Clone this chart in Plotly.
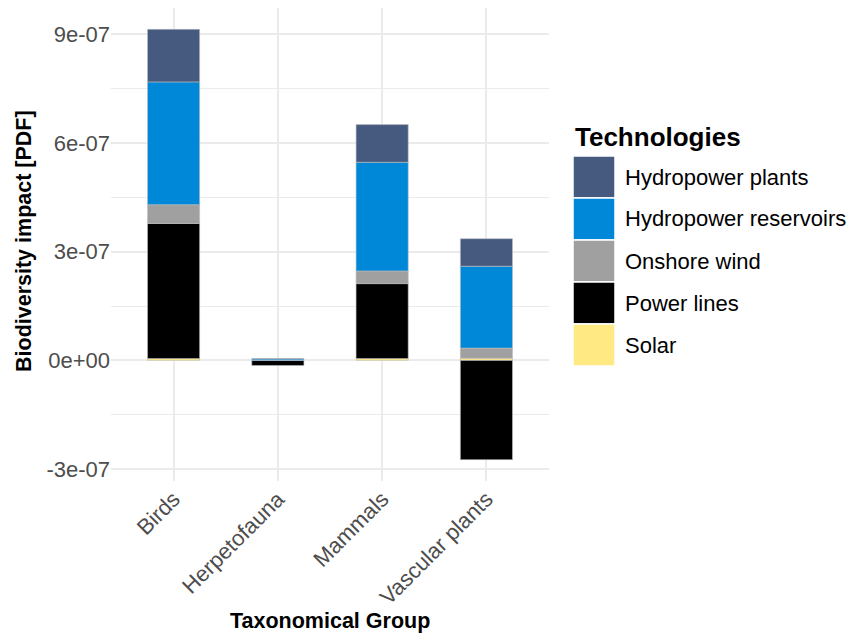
import plotly.graph_objects as go

# Taxonomic groups on the x axis
groups = ["Birds", "Herpetofauna", "Mammals", "Vascular plants"]

# Technologies, in stacking order from the baseline upward
technologies = ["Solar", "Power lines", "Onshore wind", "Hydropower reservoirs", "Hydropower plants"]
tech_colors = ["#FFE982", "#000000", "#A0A0A0", "#0088D8", "#465A80"]

# Biodiversity impact per technology and group [PDF]
solar = [0.05e-7, 0.0, 0.05e-7, 0.06e-7]
power_lines = [3.73e-7, -0.14e-7, 2.07e-7, -2.74e-7]
onshore_wind = [0.52e-7, 0.0, 0.35e-7, 0.28e-7]
hydro_reservoirs = [3.39e-7, 0.04e-7, 3.00e-7, 2.26e-7]
hydro_plants = [1.45e-7, 0.01e-7, 1.04e-7, 0.76e-7]
series = [solar, power_lines, onshore_wind, hydro_reservoirs, hydro_plants]

# Legend order (top to bottom)
legend_order = ["Hydropower plants", "Hydropower reservoirs", "Onshore wind", "Power lines", "Solar"]

# Axis ticks
y_tickvals = [-3e-7, 0, 3e-7, 6e-7, 9e-7]
y_ticktext = ["-3e-07", "0e+00", "3e-07", "6e-07", "9e-07"]
y_minorvals = [-1.5e-7, 1.5e-7, 4.5e-7, 7.5e-7]

FONT = "Liberation Sans, Arial, Helvetica, sans-serif"
W_FIG, H_FIG = 850, 636
M_L, M_R, M_T, M_B = 111, 301, 8, 155
PW = W_FIG - M_L - M_R
PH = H_FIG - M_T - M_B


def px_x(px):
    return (px - M_L) / PW


def px_y(py):
    return (H_FIG - M_B - py) / PH


fig = go.Figure()
for name, color, vals in zip(technologies, tech_colors, series):
    fig.add_trace(go.Bar(
        x=groups, y=vals, name=name, width=0.5,
        marker=dict(color=color, line=dict(color="#BDBDBD", width=0.6)),
        showlegend=False,
    ))

# Legend drawn as large square keys
shapes = []
annotations = []
key_top = 156
key_h = 42
for i, name in enumerate(legend_order):
    color = tech_colors[technologies.index(name)]
    y0 = key_top + i * key_h
    shapes.append(dict(
        type="rect", xref="paper", yref="paper",
        x0=px_x(573), x1=px_x(615), y0=px_y(y0 + key_h), y1=px_y(y0),
        fillcolor=color, line=dict(color="white", width=1.5), layer="above",
    ))
    annotations.append(dict(
        text=name, xref="paper", yref="paper",
        x=px_x(623), y=px_y(y0 + key_h / 2), xanchor="left", yanchor="middle",
        showarrow=False, font=dict(family=FONT, size=22, color="#000000"),
    ))
annotations.append(dict(
    text="<b>Technologies</b>", xref="paper", yref="paper",
    x=px_x(573), y=px_y(137), xanchor="left", yanchor="middle",
    showarrow=False, font=dict(family=FONT, size=26, color="#000000"),
))
# Axis titles
annotations.append(dict(
    text="<b>Taxonomical Group</b>", xref="paper", yref="paper",
    x=0.5, y=px_y(621), xanchor="center", yanchor="middle",
    showarrow=False, font=dict(family=FONT, size=21.5, color="#000000"),
))
annotations.append(dict(
    text="<b>Biodiversity impact [PDF]</b>", xref="paper", yref="paper",
    x=px_x(24), y=px_y(241), xanchor="center", yanchor="middle", textangle=-90,
    showarrow=False, font=dict(family=FONT, size=21.5, color="#000000"),
))

fig.update_layout(
    width=W_FIG, height=H_FIG,
    margin=dict(l=M_L, r=M_R, t=M_T, b=M_B),
    barmode="relative",
    plot_bgcolor="white", paper_bgcolor="white",
    shapes=shapes, annotations=annotations,
    showlegend=False,
)
fig.update_xaxes(
    type="category", range=[-0.6, 3.6],
    showgrid=True, gridcolor="#EBEBEB", gridwidth=1.6,
    tickangle=-45, tickfont=dict(family=FONT, size=22, color="#4D4D4D"),
    showline=False, zeroline=False, ticks="",
)
fig.update_yaxes(
    range=[-3.33e-7, 9.73e-7],
    tickmode="array", tickvals=y_tickvals, ticktext=y_ticktext,
    showgrid=True, gridcolor="#EBEBEB", gridwidth=1.6,
    minor=dict(tickmode="array", tickvals=y_minorvals, showgrid=True,
               gridcolor="#EBEBEB", gridwidth=1.4),
    tickfont=dict(family=FONT, size=22, color="#4D4D4D"),
    showline=False, zeroline=False, ticks="",
)

fig.write_html("out.html")
